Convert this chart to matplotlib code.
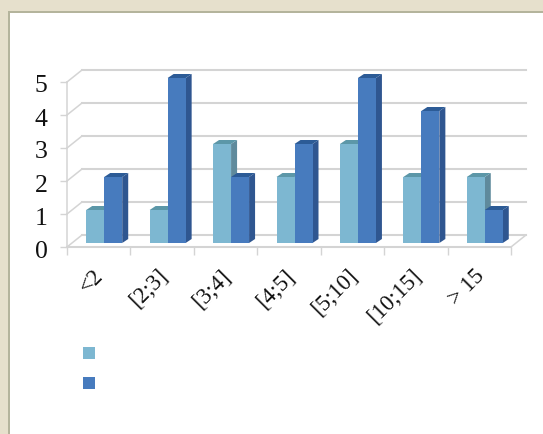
import matplotlib
matplotlib.use('Agg')
import matplotlib.pyplot as plt
from matplotlib.patches import Polygon, Rectangle
from matplotlib.transforms import ScaledTranslation

categories = ['<2', '[2;3]', '[3;4]', '[4;5]', '[5;10]', '[10;15]', '> 15']
series_a = [1, 1, 3, 2, 3, 2, 2]
series_b = [2, 5, 2, 3, 5, 4, 1]
y_ticks = [0, 1, 2, 3, 4, 5]

W, H = 543, 434
plt.rcParams['font.family'] = ['Liberation Serif', 'DejaVu Serif']

fig = plt.figure(figsize=(W / 100, H / 100), dpi=100, facecolor='#E6E0CC')


def fig_box(x0, y0, x1, y1):
    # pixel box, y measured from the top
    return [x0 / W, 1 - y1 / H, (x1 - x0) / W, (y1 - y0) / H]


# white panel with its darker top/left edge, kept behind the axes
b = fig_box(7.5, 10.5, W, H)
fig.add_artist(Rectangle((b[0], b[1]), b[2], b[3], transform=fig.transFigure, fc='#B4B49C', ec='none', zorder=-2))
b = fig_box(10, 13, W, H)
fig.add_artist(Rectangle((b[0], b[1]), b[2], b[3], transform=fig.transFigure, fc='white', ec='none', zorder=-1))

# axes box is the front plane of the fake 3d chart
ax = fig.add_axes(fig_box(67, 82, 511, 247))
ax.set_xlim(0, 7)
ax.set_ylim(0, 5)
ax.patch.set_alpha(0)
for s in ax.spines.values():
    s.set_visible(False)

px = 7 / 444
py = 5 / 165
wall_dx, wall_dy = 15 * px, 12 * py
grid_c = '#D4D4D4'

# back wall gridlines and floor/side edges
for v in y_ticks:
    ax.plot([wall_dx, 7 + wall_dx], [v + wall_dy, v + wall_dy], color=grid_c, lw=1.5, clip_on=False, zorder=1)
    ax.plot([0, wall_dx], [v, v + wall_dy], color=grid_c, lw=1.1, clip_on=False, zorder=1)
ax.plot([0, 0], [0, 5], color=grid_c, lw=1.1, clip_on=False, zorder=1)
ax.plot([0, 7], [0, 0], color=grid_c, lw=1.5, clip_on=False, zorder=1)
ax.plot([7, 7 + wall_dx], [0, wall_dy], color=grid_c, lw=1.1, clip_on=False, zorder=1)

# tick marks
ax.set_xticks(range(8))
ax.set_xticklabels([])
ax.set_yticks(y_ticks)
ax.set_yticklabels([str(v) for v in y_ticks], fontsize=18.5, color='#111111')
ax.tick_params(axis='x', length=6, width=1, color=grid_c, direction='out')
ax.tick_params(axis='y', length=5, width=1, color=grid_c, direction='out', pad=9)
nudge = ScaledTranslation(0, -2 / 100, fig.dpi_scale_trans)
for t in ax.get_yticklabels():
    t.set_transform(t.get_transform() + nudge)

for i, lab in enumerate(categories):
    ax.annotate(lab, (i + 0.5, 0), xytext=(-4, -13), textcoords='offset points', rotation=45,
                ha='right', va='top', rotation_mode='anchor', fontsize=16.5, color='#111111',
                annotation_clip=False)

bar_w = 18 * px
shift_x, shift_y = 5.5 * px, 4 * py
depth_x, depth_y = 6 * px, 4 * py


def bar3d(x0, val, front, side, top, z):
    y0 = shift_y
    y1 = val + shift_y
    x = x0
    ax.add_patch(Polygon([(x + bar_w, y0), (x + bar_w + depth_x, y0 + depth_y),
                          (x + bar_w + depth_x, y1 + depth_y), (x + bar_w, y1)],
                         fc=side, ec='none', clip_on=False, zorder=z))
    ax.add_patch(Polygon([(x, y1), (x + depth_x, y1 + depth_y), (x + bar_w + depth_x, y1 + depth_y),
                          (x + bar_w, y1)], fc=top, ec='none', clip_on=False, zorder=z))
    ax.add_patch(Rectangle((x, y0), bar_w, y1 - y0, fc=front, ec='none', clip_on=False, zorder=z + 0.1))


for i in range(len(categories)):
    c = i + 0.5 + shift_x
    bar3d(c - bar_w, series_a[i], '#7DB7D1', '#5F8A9C', '#5C97A8', 3 + i * 2)
    bar3d(c, series_b[i], '#477BBE', '#2F5690', '#2C5B96', 3.5 + i * 2)

# legend keys, their labels are blank in the original
for y0, col in zip((347, 377), ('#7DB7D1', '#477BBE')):
    b = fig_box(83, y0, 95, y0 + 12)
    fig.add_artist(Rectangle((b[0], b[1]), b[2], b[3], transform=fig.transFigure, fc=col, ec='none'))

fig.savefig('out.png', dpi=100, facecolor=fig.get_facecolor())
